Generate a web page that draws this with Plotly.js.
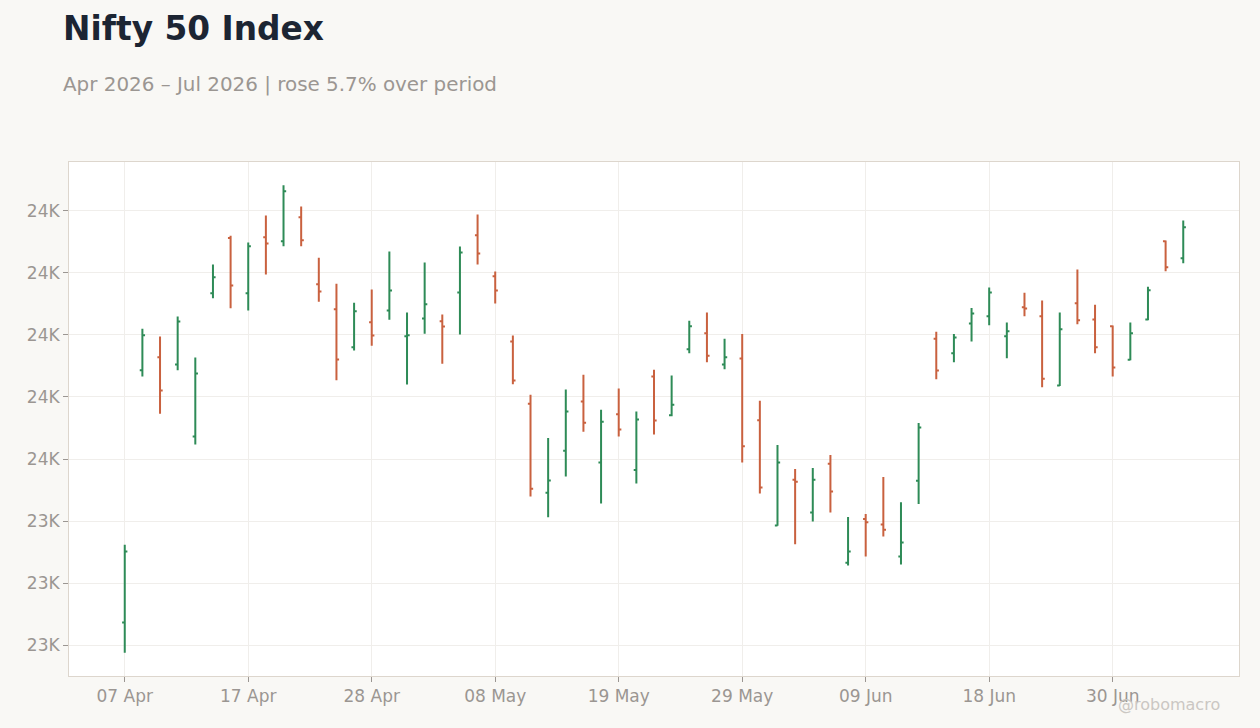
<!DOCTYPE html>
<html>
<head>
<meta charset="utf-8">
<script src="https://cdn.plot.ly/plotly-3.0.1.min.js"></script>
<style>
  html, body { margin: 0; padding: 0; background: #f9f8f5; }
  #chart { width: 1260px; height: 728px; }
</style>
</head>
<body>
<div id="chart"></div>
<script>
// trading days, Apr - Jul 2026
var dates = ['07 Apr', '08 Apr', '09 Apr', '10 Apr', '13 Apr', '15 Apr', '16 Apr', '17 Apr', '20 Apr', '21 Apr',
             '22 Apr', '23 Apr', '24 Apr', '27 Apr', '28 Apr', '29 Apr', '30 Apr', '04 May', '05 May', '06 May',
             '07 May', '08 May', '11 May', '12 May', '13 May', '14 May', '15 May', '18 May', '19 May', '20 May',
             '21 May', '22 May', '25 May', '26 May', '28 May', '29 May', '01 Jun', '02 Jun', '03 Jun', '04 Jun',
             '05 Jun', '08 Jun', '09 Jun', '10 Jun', '11 Jun', '12 Jun', '15 Jun', '16 Jun', '17 Jun', '18 Jun',
             '19 Jun', '22 Jun', '23 Jun', '24 Jun', '25 Jun', '29 Jun', '30 Jun', '01 Jul', '02 Jul', '03 Jul',
             '06 Jul'];

var opens = [23073, 23886, 23928, 23905, 23673, 24134, 24312, 24134, 24315, 24302,
             24379, 24163, 24083, 23960, 24041, 24079, 23996, 24053, 24044, 24137,
             24321, 24189, 23979, 23778, 23491, 23627, 23785, 23589, 23744, 23565,
             23866, 23741, 23954, 24005, 23905, 23924, 23725, 23386, 23533, 23428,
             23585, 23266, 23407, 23389, 23286, 23530, 23988, 23941, 24037, 24060,
             23996, 24089, 24060, 23837, 24102, 24050, 24028, 23920, 24050, 24302,
             24247];
var highs = [23324, 24020, 23995, 24059, 23927, 24227, 24320, 24298, 24385, 24482,
             24414, 24249, 24165, 24104, 24146, 24269, 24072, 24233, 24066, 24285,
             24388, 24204, 23998, 23807, 23668, 23824, 23872, 23759, 23827, 23753,
             23888, 23869, 24046, 24072, 23988, 24003, 23788, 23645, 23568, 23571,
             23613, 23413, 23423, 23542, 23461, 23716, 24010, 24003, 24087, 24153,
             24040, 24136, 24111, 24072, 24211, 24097, 24030, 24040, 24155, 24304,
             24369];
var lows = [22976, 23866, 23746, 23886, 23647, 24118, 24086, 24079, 24195, 24286,
            24286, 24107, 23854, 23950, 23965, 24049, 23840, 24004, 23907, 24001,
            24227, 24101, 23841, 23479, 23412, 23544, 23688, 23457, 23673, 23521,
            23679, 23738, 23941, 23912, 23889, 23589, 23489, 23385, 23325, 23399,
            23428, 23257, 23286, 23350, 23260, 23455, 23857, 23912, 23979, 24031,
            23925, 24060, 23831, 23835, 24034, 23941, 23866, 23918, 24047, 24205,
            24231];
var closes = [23302, 23999, 23821, 24043, 23876, 24186, 24159, 24286, 24295, 24463,
              24305, 24140, 23921, 24076, 23998, 24143, 23999, 24099, 24027, 24266,
              24262, 24143, 23853, 23504, 23531, 23753, 23717, 23720, 23695, 23727,
              23724, 23775, 24028, 23933, 23928, 23641, 23508, 23589, 23527, 23533,
              23495, 23302, 23396, 23372, 23331, 23702, 23885, 23992, 24069, 24137,
              24012, 24085, 23859, 24018, 24047, 23960, 23895, 24005, 24144, 24218,
              24347];

var y_ticks = [23000, 23200, 23400, 23600, 23800, 24000, 24200, 24400];

function draw_ohlc(container) {
  var green = '#2e8b57';
  var red = '#c9613f';
  var grey = '#9b9692';

  // one label every 7 trading days
  var x_ticks = [];
  for (var i = 0; i < dates.length; i += 7) {
    x_ticks.push(dates[i]);
  }
  var y_labels = y_ticks.map(function (v) { return Math.round(v / 1000) + 'K'; });

  var lo = Math.min.apply(null, lows);
  var hi = Math.max.apply(null, highs);
  var pad = (hi - lo) * 0.05;

  var trace = {
    type: 'ohlc',
    x: dates,
    open: opens,
    high: highs,
    low: lows,
    close: closes,
    tickwidth: 0.15,
    increasing: {line: {color: green, width: 2}},
    decreasing: {line: {color: red, width: 2}},
    hoverinfo: 'x+text'
  };

  var plot_layout = {
    width: 1260,
    height: 728,
    margin: {l: 69, r: 21, t: 162, b: 52},
    paper_bgcolor: '#f9f8f5',
    plot_bgcolor: '#ffffff',
    showlegend: false,
    font: {family: 'DejaVu Sans', color: grey, size: 17},
    xaxis: {
      type: 'category',
      range: [-3.16, dates.length + 2.16],
      tickvals: x_ticks,
      ticktext: x_ticks,
      ticks: 'outside',
      ticklen: 5,
      tickcolor: grey,
      showgrid: true,
      gridcolor: '#f0eeeb',
      showline: true,
      linecolor: '#ddd6cd',
      mirror: true,
      zeroline: false,
      rangeslider: {visible: false},
      tickfont: {size: 17, color: grey}
    },
    yaxis: {
      range: [lo - pad, hi + pad],
      tickvals: y_ticks,
      ticktext: y_labels,
      ticks: 'outside',
      ticklen: 5,
      tickcolor: grey,
      showgrid: true,
      gridcolor: '#f0eeeb',
      showline: true,
      linecolor: '#ddd6cd',
      mirror: true,
      zeroline: false,
      tickfont: {size: 17, color: grey}
    },
    annotations: [
      {
        text: '<b>Nifty 50 Index</b>',
        xref: 'paper', yref: 'paper',
        x: -0.0068, y: 1.258,
        xanchor: 'left', yanchor: 'middle',
        showarrow: false,
        font: {family: 'DejaVu Sans', size: 32.8, color: '#1c2533'}
      },
      {
        text: 'Apr 2026 \u2013 Jul 2026 | rose 5.7% over period',
        xref: 'paper', yref: 'paper',
        x: -0.0068, y: 1.15,
        xanchor: 'left', yanchor: 'middle',
        showarrow: false,
        font: {family: 'DejaVu Sans', size: 19.9, color: grey}
      },
      {
        text: '@robomacro',
        xref: 'paper', yref: 'paper',
        x: 0.9855, y: -0.0545,
        xanchor: 'right', yanchor: 'middle',
        showarrow: false,
        font: {family: 'DejaVu Sans', size: 16, color: '#cbc7c3'}
      }
    ]
  };

  Plotly.newPlot(container, [trace], plot_layout, {displaylogo: false, displayModeBar: false});
}

draw_ohlc('chart');
</script>
</body>
</html>
